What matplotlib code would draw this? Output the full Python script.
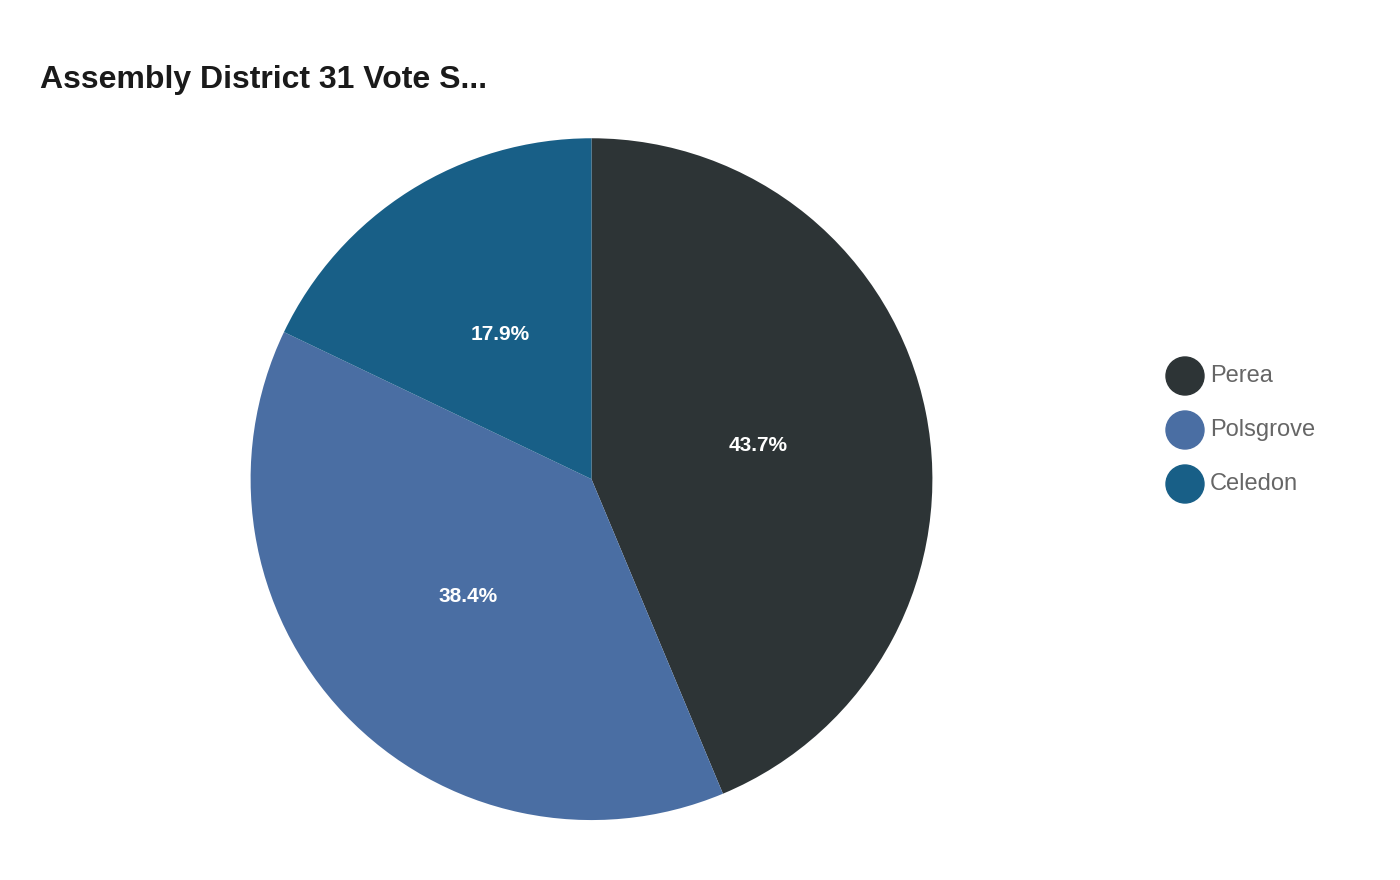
import matplotlib
matplotlib.use("Agg")
import matplotlib.pyplot as plt

labels = ["Perea", "Polsgrove", "Celedon"]
values = [43.7, 38.4, 17.9]
colors = ["#2d3436", "#4a6ea3", "#185f87"]

plt.rcParams['font.family'] = ['Liberation Sans', 'DejaVu Sans']
fig = plt.figure(figsize=(14, 8.8), dpi=100)
ax = fig.add_axes([0.179, 0.068, 0.487, 0.775])
wedges, texts, autotexts = ax.pie(values, colors=colors, startangle=90, counterclock=False,
                                  autopct='%1.1f%%', pctdistance=0.5,
                                  textprops=dict(color='white', fontsize=15, fontweight='bold'))
ax.set_aspect('equal')
ax.set_xlim(-1, 1); ax.set_ylim(-1, 1)

fig.text(40/1400, 1-80/880, "Assembly District 31 Vote S...", fontsize=23, fontweight='bold',
         color='#1a1a1a', va='center', ha='left')

for i, (lab, c) in enumerate(zip(labels, colors)):
    y = 1 - (376 + 54*i)/880
    fig.patches.append(matplotlib.patches.Ellipse((1185/1400, y), 38/1400, 38/880,
                                                  transform=fig.transFigure, color=c))
    fig.text(1210/1400, y, lab, fontsize=17, color='#666666', va='center', ha='left')

fig.savefig("out.png", dpi=100)
